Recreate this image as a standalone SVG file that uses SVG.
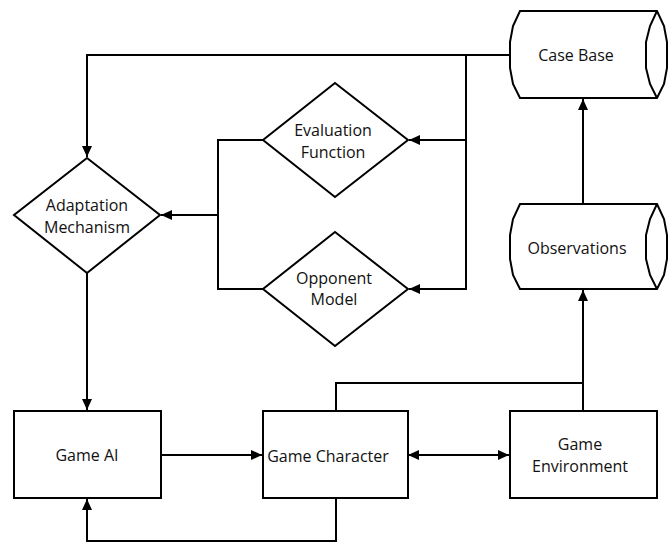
<svg xmlns="http://www.w3.org/2000/svg" width="672" height="544" viewBox="0 0 672 544">
<style>
.n{fill:#fff;stroke:#000;stroke-width:2;stroke-linejoin:miter}
.c{fill:none;stroke:#000;stroke-width:2}
.a{marker-end:url(#ah)}
text{font-family:"Open Sans","Liberation Sans",sans-serif;font-size:16px;fill:#111;text-anchor:middle;dominant-baseline:central}
</style>
<defs>
<marker id="ah" markerUnits="userSpaceOnUse" markerWidth="12" markerHeight="12" viewBox="0 0 12 12" refX="11" refY="6" orient="auto">
<path d="M0,1 L11,6 L0,11 Z" fill="#000"/>
</marker>
<marker id="as" markerUnits="userSpaceOnUse" markerWidth="12" markerHeight="12" viewBox="0 0 12 12" refX="1" refY="6" orient="auto">
<path d="M12,1 L1,6 L12,11 Z" fill="#000"/>
</marker>
</defs>
<g id="connectors">
<path class="c" d="M510,55 H87 V157"/>
<path class="c a" d="M87,55 V157"/>
<path class="c a" d="M466,55 V289 H409"/>
<path class="c a" d="M466,140 H409"/>
<path class="c" d="M263,140 H218 V289 H263"/>
<path class="c a" d="M218,215 H161"/>
<path class="c a" d="M87,273 V410"/>
<path class="c a" d="M161,455 H262"/>
<path class="c" d="M408,455 H509" marker-start="url(#as)" marker-end="url(#ah)"/>
<path class="c a" d="M336,498 V541 H87 V499"/>
<path class="c" d="M336,411 V383 H583"/>
<path class="c a" d="M583,411 V290"/>
<path class="c a" d="M583,204 V99"/>
</g>
<g id="case-base">
<path class="n" d="M520,11 H657 L664,26 L667,42 L667,68 L664,84 L657,98 H520 L513,84 L510,68 L510,42 L513,26 Z"/>
<path class="c" d="M657,11 L650,26 L646,42 L646,68 L650,84 L657,98"/>
<text x="576" y="55">Case Base</text>
</g>
<g id="observations">
<path class="n" d="M520,204 H657 L664,219 L667,235 L667,259 L664,275 L657,289 H520 L513,275 L510,259 L510,235 L513,219 Z"/>
<path class="c" d="M657,204 L650,219 L646,235 L646,259 L650,275 L657,289"/>
<text x="577" y="248">Observations</text>
</g>
<g id="adaptation-mechanism">
<path class="n" d="M87,158 L160,215 L87,273 L14,215 Z"/>
<text x="87" y="205">Adaptation</text>
<text x="87" y="227">Mechanism</text>
</g>
<g id="evaluation-function">
<path class="n" d="M335,83 L408,140 L335,197 L263,140 Z"/>
<text x="333" y="130">Evaluation</text>
<text x="333" y="152">Function</text>
</g>
<g id="opponent-model">
<path class="n" d="M335,232 L408,289 L335,346 L263,289 Z"/>
<text x="334" y="278">Opponent</text>
<text x="334" y="299">Model</text>
</g>
<g id="game-ai">
<rect class="n" x="14" y="411" width="147" height="87"/>
<text x="87" y="455">Game AI</text>
</g>
<g id="game-character">
<rect class="n" x="263" y="411" width="145" height="87"/>
<text x="328" y="456">Game Character</text>
</g>
<g id="game-environment">
<rect class="n" x="510" y="411" width="147" height="87"/>
<text x="580" y="444">Game</text>
<text x="580" y="466">Environment</text>
</g>
</svg>
